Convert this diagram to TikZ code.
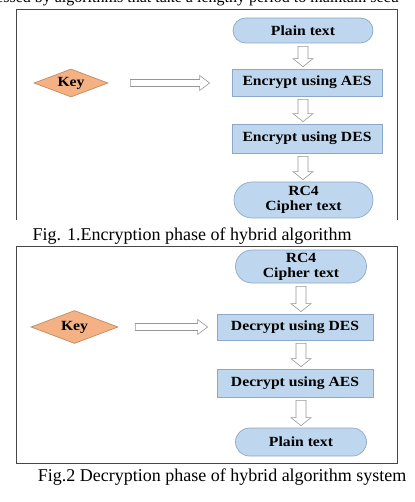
\documentclass[tikz,border=0pt]{standalone}
\usepackage{fontspec}
\setmainfont{Liberation Serif}
\newfontfamily\boxfont[FakeStretch=1.12]{Liberation Serif Bold}
\usetikzlibrary{shapes.geometric,calc}
\definecolor{framegray}{RGB}{70,70,70}
\definecolor{bluefill}{RGB}{190,215,238}
\definecolor{blueedge}{RGB}{140,168,200}
\definecolor{keyfill}{RGB}{244,177,131}
\definecolor{keyedge}{RGB}{196,138,98}
\definecolor{arrowgray}{RGB}{150,150,150}
\tikzset{
  frameline/.style={draw=framegray,line width=0.9pt},
  bluebox/.style={draw=blueedge,fill=bluefill,line width=0.7pt,inner sep=0pt,align=center,
    font=\boxfont\fontsize{14}{15}\selectfont},
  stadium/.style={bluebox,rounded corners=#1},
  keyd/.style={diamond,draw=keyedge,fill=keyfill,line width=0.7pt,inner sep=0pt,aspect=2.6,
    font=\boxfont\fontsize{14}{15}\selectfont},
  barrow/.style={draw=arrowgray,fill=white,line width=0.6pt},
  caption/.style={font=\fontsize{18}{20}\selectfont,inner sep=0pt}
}
\newcommand{\varr}[3]{%
  \draw[barrow] let \p1=(#1.south), \p2=(#2.north), \p3=(#3.center) in
  (\x3-5pt,\y1-3pt) -- (\x3+5pt,\y1-3pt) -- (\x3+5pt,\y2+10pt) -- (\x3+10pt,\y2+10pt)
  -- (\x3,\y2+2pt) -- (\x3-10pt,\y2+10pt) -- (\x3-5pt,\y2+10pt) -- cycle;}
\newcommand{\harr}[4]{%
  \draw[barrow] let \p1=(#1.east), \p2=(#2.west) in
  (\x1+#3pt,\y1+3.5pt) -- (\x2-#4pt-10pt,\y1+3.5pt) -- (\x2-#4pt-10pt,\y1+7.5pt)
  -- (\x2-#4pt,\y1) -- (\x2-#4pt-10pt,\y1-7.5pt) -- (\x2-#4pt-10pt,\y1-3.5pt)
  -- (\x1+#3pt,\y1-3.5pt) -- cycle;}
\begin{document}
\begin{tikzpicture}[x=1pt,y=-1pt]
\useasboundingbox (0,0) rectangle (414,502);
% clipped line of body text at the top
\begin{scope}
\clip (0,0) rectangle (414,7);
\node[anchor=base west,inner sep=0pt,font=\fontsize{16}{18}\selectfont] (toptext) at (-4,3)
  {essed by algorithms that take a lengthy period to maintain secu};
\end{scope}
% ---------- Fig. 1 ----------
\draw[frameline] (16,220) -- (16,9) -- (397,9) -- (397,220);
\node[stadium=12.5pt,minimum width=140pt,minimum height=25pt] (plain1) at (303,30.5) {Plain text};
\node[bluebox,minimum width=150pt,minimum height=27pt] (aes1) at (307,82.5) {Encrypt using AES};
\node[bluebox,minimum width=150pt,minimum height=29pt] (des1) at (307,138.5) {Encrypt using DES};
\node[stadium=18pt,minimum width=139pt,minimum height=36pt] (rc41) at (303.5,200) {RC4\\Cipher text};
\node[keyd,minimum width=74pt,minimum height=28pt] (key1) at (71,83) {Key};
\varr{plain1}{aes1}{plain1}
\varr{aes1}{des1}{plain1}
\varr{des1}{rc41}{plain1}
\harr{key1}{aes1}{22}{22}
\node[caption] (cap1) at (192,236) {Fig. 1.Encryption phase of hybrid algorithm};
% ---------- Fig. 2 ----------
\draw[frameline] (16,246) rectangle (397,463);
\node[stadium=16.5pt,minimum width=131pt,minimum height=33pt] (rc42) at (301,266.5) {RC4\\Cipher text};
\node[bluebox,minimum width=156pt,minimum height=26pt] (des2) at (295,327) {Decrypt using DES};
\node[bluebox,minimum width=156pt,minimum height=28pt] (aes2) at (295,383) {Decrypt using AES};
\node[stadium=14pt,minimum width=131pt,minimum height=28pt] (plain2) at (301,442) {Plain text};
\node[keyd,minimum width=87pt,minimum height=33pt] (key2) at (74.5,327) {Key};
\varr{rc42}{des2}{rc42}
\varr{des2}{aes2}{rc42}
\varr{aes2}{plain2}{rc42}
\harr{key2}{des2}{17}{9}
\node[caption] (cap2) at (222,477) {Fig.2 Decryption phase of hybrid algorithm system};
\end{tikzpicture}
\end{document}
